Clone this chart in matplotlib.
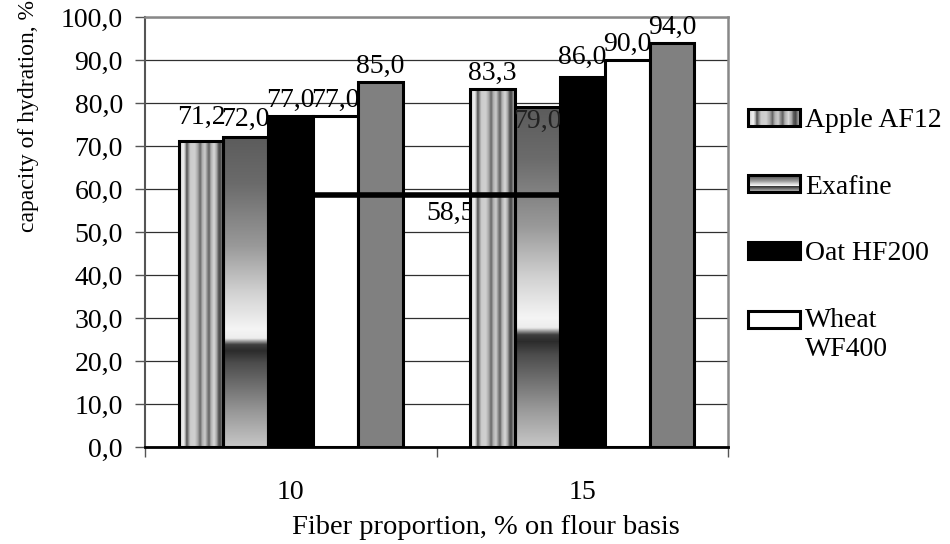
import numpy as np
import matplotlib
matplotlib.use("Agg")
import matplotlib.pyplot as plt
from matplotlib.patches import Rectangle, Patch
from matplotlib.legend_handler import HandlerBase
from matplotlib.image import BboxImage
from matplotlib.transforms import Bbox, TransformedBbox
from matplotlib.ticker import FixedLocator, FuncFormatter, NullFormatter

plt.rcParams['font.family'] = ['Liberation Serif', 'DejaVu Serif']

# ---------------- data ----------------
categories = ["10", "15"]
legend_labels = ["Apple AF12", "Exafine", "Oat HF200", "Wheat\nWF400"]
apple = [71.2, 83.3]
exafine = [72.0, 79.0]
oat = [77.0, 86.0]
wheat = [77.0, 90.0]
other = [85.0, 94.0]          # fifth, unlabelled series (grey bars)
control = [58.5, 58.5]        # control level drawn as a line
y_ticks = [0, 10, 20, 30, 40, 50, 60, 70, 80, 90, 100]
x_title = "Fiber proportion, % on flour basis"
y_title = "capacity of hydration, %"

FS = 20


def fmt(v):
    return f"{v:.1f}".replace(".", ",")


def profile(stops, n=256):
    f = np.linspace(0, 1, n)
    xs, gs = zip(*stops)
    return np.interp(f, xs, gs)


# style gradients (grey levels)
APPLE_STOPS = [(0.0, 0.75), (0.05, 0.88), (0.1, 0.95), (0.14, 0.7), (0.17, 0.3),
               (0.2, 0.5), (0.25, 0.8), (0.35, 0.82), (0.42, 0.65), (0.47, 0.4),
               (0.52, 0.7), (0.58, 0.8), (0.63, 0.55), (0.67, 0.38), (0.71, 0.68),
               (0.78, 0.85), (0.84, 0.65), (0.88, 0.35), (0.92, 0.28), (0.96, 0.55),
               (1.0, 0.72)]
EXA_STOPS = [(0.0, 0.78), (0.11, 0.6), (0.27, 0.3), (0.31, 0.17), (0.33, 0.25),
             (0.35, 0.93), (0.38, 0.96), (0.5, 0.82), (0.65, 0.6), (0.85, 0.42),
             (1.0, 0.36)]

ap = profile(APPLE_STOPS)
apple_img = np.repeat(ap[None, :, None], 3, axis=2)
ex = profile(EXA_STOPS)
exa_img = np.repeat(ex[:, None, None], 3, axis=2)

fig = plt.figure(figsize=(9.5, 5.44), dpi=100)
L, R, T, B = 145, 728, 17, 447
ax = fig.add_axes([L / 950, (544 - B) / 544, (R - L) / 950, (B - T) / 544])

x = np.arange(len(categories))
w = 0.154
offsets = (np.arange(5) - 2) * w
series = [apple, exafine, oat, wheat, other]
faces = [None, None, "black", "white", "#808080"]
images = [apple_img, exa_img, None, None, None]

bar_containers = []
for i, vals in enumerate(series):
    xs = x + offsets[i]
    if images[i] is not None:
        bars = ax.bar(xs, vals, w, facecolor="none", edgecolor="black",
                      linewidth=2.2, zorder=3)
        for b in bars:
            x0, h = b.get_x(), b.get_height()
            ax.imshow(images[i], extent=(x0, x0 + w, 0, h), aspect="auto",
                      origin="lower", interpolation="bilinear", zorder=2)
    else:
        bars = ax.bar(xs, vals, w, facecolor=faces[i], edgecolor="black",
                      linewidth=2.2, zorder=3)
    bar_containers.append(bars)

# value labels (label placement nudges, in points)
inside = {(1, 1)}
nudge = {(0, 0): 6, (1, 0): 2, (2, 1): 3}
for i, bars in enumerate(bar_containers):
    for j, b in enumerate(bars):
        v = series[i][j]
        xc = b.get_x() + b.get_width() / 2
        if (i, j) in inside:
            t = ax.annotate(fmt(v), (xc, v), xytext=(0, -10), textcoords="offset points",
                            ha="center", va="center", fontsize=FS, color="#222222",
                            zorder=3.5)
            t.set_clip_path(b)
        else:
            ax.annotate(fmt(v), (xc, v), xytext=(0, 11 + nudge.get((i, j), 0)),
                        textcoords="offset points", ha="center", va="center",
                        fontsize=FS, zorder=6)

# control line
ax.plot(x, control, color="black", lw=4, solid_capstyle="butt", zorder=4)
ax.annotate(fmt(control[0]), (x.mean(), control[0]), xytext=(10, -13),
            textcoords="offset points", ha="center", va="center", fontsize=FS,
            zorder=1.5)

ax.set_xlim(-0.5, len(categories) - 0.5)
ax.set_ylim(0, 100)

# grid / ticks
ax.yaxis.set_major_locator(FixedLocator(y_ticks))
ax.yaxis.set_major_formatter(FuncFormatter(lambda v, p: fmt(v)))
ax.grid(axis="y", color="#303030", lw=0.9, zorder=0.5)
ax.set_axisbelow(True)

ax.tick_params(axis="y", direction="out", length=7, width=1, color="#555555",
               labelsize=FS, pad=9)
ax.xaxis.set_major_locator(FixedLocator(np.arange(len(categories) + 1) - 0.5))
ax.xaxis.set_major_formatter(NullFormatter())
ax.xaxis.set_minor_locator(FixedLocator(x))
ax.xaxis.set_minor_formatter(FuncFormatter(lambda v, p: categories[int(round(v))]))
ax.tick_params(axis="x", which="major", direction="out", length=7, width=1,
               color="#555555")
ax.tick_params(axis="x", which="minor", length=0, labelsize=FS, pad=24)

for s in ["top", "right"]:
    ax.spines[s].set_color("#888888")
    ax.spines[s].set_linewidth(1.8)
ax.spines["left"].set_color("#555555")
ax.spines["left"].set_linewidth(1.5)
ax.spines["bottom"].set_color("black")
ax.spines["bottom"].set_linewidth(2)

ax.set_xlabel(x_title, fontsize=20.5, va="center")
ax.xaxis.set_label_coords(0.585, -0.188)
ax.set_ylabel(y_title, fontsize=17, va="center")
ax.yaxis.set_label_coords(-0.199, 0.77)


# legend
class SwatchHandler(HandlerBase):
    def __init__(self, image=None, lift=0.0):
        super().__init__()
        self.image = image
        self.lift = lift

    def create_artists(self, legend, orig_handle, xdescent, ydescent, width,
                       height, fontsize, trans):
        x0 = -xdescent
        y0 = -ydescent + self.lift * fontsize
        arts = []
        fc = orig_handle.get_facecolor()
        if self.image is not None:
            bb = TransformedBbox(Bbox.from_bounds(x0, y0, width, height), trans)
            bim = BboxImage(bb, interpolation="bilinear", origin="lower")
            bim.set_data(self.image)
            arts.append(bim)
            fc = "none"
        r = Rectangle((x0, y0), width, height, facecolor=fc, edgecolor="black",
                      lw=2.2, transform=trans)
        arts.append(r)
        return arts


h_apple = Patch(facecolor="none")
h_exa = Patch(facecolor="none")
h_oat = Patch(facecolor="black")
h_wheat = Patch(facecolor="white")
handler_map = {
    h_apple: SwatchHandler(apple_img),
    h_exa: SwatchHandler(exa_img),
    h_oat: SwatchHandler(None),
    h_wheat: SwatchHandler(None, lift=0.55),
}
fig.legend([h_apple, h_exa, h_oat, h_wheat], legend_labels,
           handler_map=handler_map, loc="upper left",
           bbox_to_anchor=(748 / 950, 1 - 108 / 544), frameon=False,
           fontsize=FS, handlelength=1.87, handleheight=0.56, handletextpad=0.18,
           labelspacing=1.5, borderpad=0, borderaxespad=0)

fig.savefig("out.png", dpi=100)
